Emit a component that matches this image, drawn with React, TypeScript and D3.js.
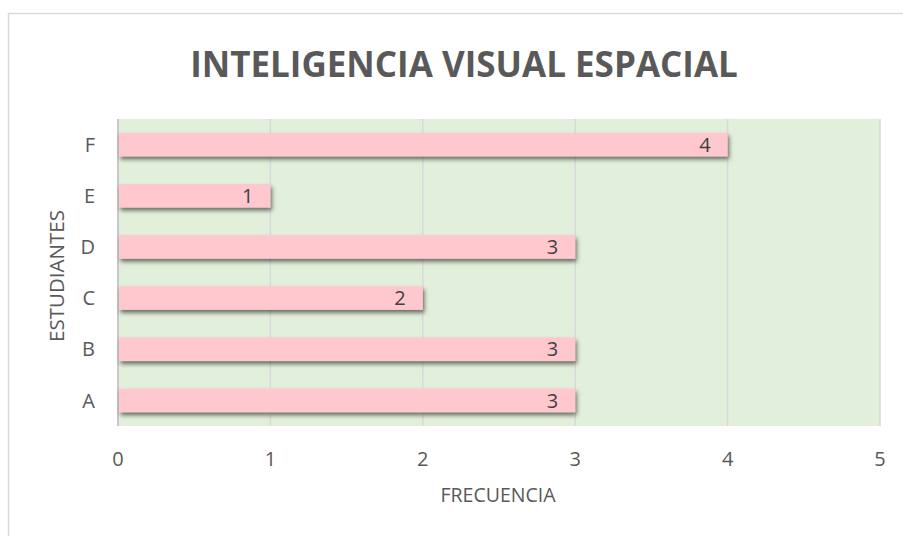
import React, { useEffect, useRef } from "react";
import * as d3 from "d3";

const students = ["A", "B", "C", "D", "E", "F"];
const frequency = [3, 3, 2, 3, 1, 4];
const xTicks = [0, 1, 2, 3, 4, 5];

const App = () => {
  const ref = useRef<SVGSVGElement>(null);

  useEffect(() => {
    const svg = d3.select(ref.current);
    svg.selectAll("*").remove();

    const plot = { left: 118, right: 880, top: 119, bottom: 426 };
    const font = "Open Sans, Liberation Sans, sans-serif";
    const grey = "#595959";

    const x = d3.scaleLinear().domain([0, 5]).range([plot.left, plot.right]);
    const y = d3.scaleBand()
      .domain(students.slice().reverse())
      .range([plot.top, plot.bottom])
      .paddingInner(0.54)
      .paddingOuter(0.27);

    const defs = svg.append("defs");
    const f = defs.append("filter").attr("id", "shadow")
      .attr("x", "-5%").attr("y", "-30%").attr("width", "110%").attr("height", "180%");
    f.append("feDropShadow")
      .attr("dx", 1.5).attr("dy", 3).attr("stdDeviation", 2)
      .attr("flood-color", "#000").attr("flood-opacity", 0.55);

    // chart border
    svg.append("rect")
      .attr("x", 8.5).attr("y", 13.5)
      .attr("width", 900).attr("height", 540)
      .attr("fill", "#fff").attr("stroke", "#d9d9d9").attr("stroke-width", 1.5);

    // plot background
    svg.append("rect")
      .attr("x", plot.left).attr("y", plot.top)
      .attr("width", plot.right - plot.left).attr("height", plot.bottom - plot.top)
      .attr("fill", "#e2efda");

    // gridlines
    svg.append("g")
      .selectAll("line")
      .data(xTicks)
      .enter().append("line")
      .attr("x1", d => x(d)).attr("x2", d => x(d))
      .attr("y1", plot.top).attr("y2", plot.bottom)
      .attr("stroke", d => d === 0 ? "#c8c8c8" : "#d9d9d9")
      .attr("stroke-width", d => d === 0 ? 2 : 1.5);

    // bars
    svg.append("g")
      .selectAll("rect")
      .data(students)
      .enter().append("rect")
      .attr("x", x(0) + 1)
      .attr("y", d => y(d)!)
      .attr("width", (d, i) => x(frequency[i]) - x(0) - 1)
      .attr("height", y.bandwidth())
      .attr("fill", "#ffc7ce")
      .attr("filter", "url(#shadow)");

    // data labels
    svg.append("g")
      .selectAll("text")
      .data(students)
      .enter().append("text")
      .attr("x", (d, i) => x(frequency[i]) - 17)
      .attr("y", d => y(d)! + y.bandwidth() / 2)
      .attr("dy", "0.36em")
      .attr("text-anchor", "end")
      .attr("font-family", font)
      .attr("font-size", 20)
      .attr("fill", "#404040")
      .text((d, i) => frequency[i]);

    // x tick labels
    svg.append("g")
      .selectAll("text")
      .data(xTicks)
      .enter().append("text")
      .attr("x", d => x(d))
      .attr("y", 466)
      .attr("text-anchor", "middle")
      .attr("font-family", font)
      .attr("font-size", 20)
      .attr("fill", grey)
      .text(d => d);

    // y tick labels
    svg.append("g")
      .selectAll("text")
      .data(students)
      .enter().append("text")
      .attr("x", 95)
      .attr("y", d => y(d)! + y.bandwidth() / 2)
      .attr("dy", "0.36em")
      .attr("text-anchor", "end")
      .attr("font-family", font)
      .attr("font-size", 20)
      .attr("fill", grey)
      .text(d => d);

    // title
    svg.append("text")
      .attr("x", 464).attr("y", 77)
      .attr("text-anchor", "middle")
      .attr("font-family", font)
      .attr("font-weight", "bold")
      .attr("font-size", 35)
      .attr("fill", grey)
      .text("INTELIGENCIA VISUAL ESPACIAL");

    // axis titles
    svg.append("text")
      .attr("x", 498).attr("y", 502)
      .attr("text-anchor", "middle")
      .attr("font-family", font)
      .attr("font-size", 19.5)
      .attr("fill", grey)
      .text("FRECUENCIA");

    svg.append("text")
      .attr("transform", `translate(64,276) rotate(-90)`)
      .attr("text-anchor", "middle")
      .attr("font-family", font)
      .attr("font-size", 20.5)
      .attr("fill", grey)
      .text("ESTUDIANTES");
  }, []);

  return (
    <svg ref={ref} width={903} height={536}
      style={{ position: "absolute", left: 0, top: 0, display: "block" }} />
  );
};

export default App;
